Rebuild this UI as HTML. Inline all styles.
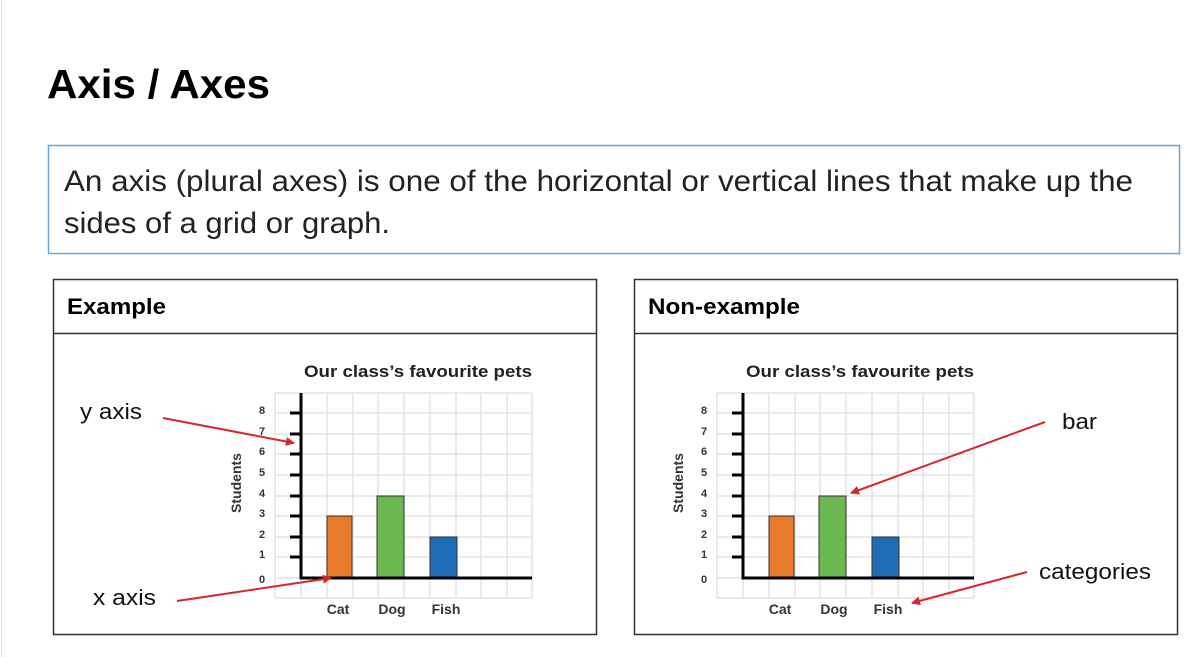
<!DOCTYPE html>
<html><head><meta charset="utf-8"><style>
html,body{margin:0;padding:0;background:#fff;}
svg{display:block;font-family:"Liberation Sans",Arial,sans-serif;}
</style></head><body>
<svg width="1200" height="657" viewBox="0 0 1200 657" xmlns="http://www.w3.org/2000/svg">
<defs>
<marker id="ah" markerWidth="9" markerHeight="9" refX="8" refY="4.5" orient="auto" markerUnits="userSpaceOnUse"><path d="M0,0 L9,4.5 L0,9 z" fill="#d9262b"/></marker>
<g id="chart">
  <text x="304" y="377" font-size="17" font-weight="bold" fill="#222" textLength="228" lengthAdjust="spacingAndGlyphs">Our class’s favourite pets</text>
  <g stroke="#e3e3e3" stroke-width="1.5">
    <line x1="275" y1="393" x2="275" y2="598"/><line x1="301" y1="393" x2="301" y2="598"/><line x1="327" y1="393" x2="327" y2="598"/><line x1="353" y1="393" x2="353" y2="598"/><line x1="378" y1="393" x2="378" y2="598"/><line x1="404" y1="393" x2="404" y2="598"/><line x1="430" y1="393" x2="430" y2="598"/><line x1="456" y1="393" x2="456" y2="598"/><line x1="481" y1="393" x2="481" y2="598"/><line x1="507" y1="393" x2="507" y2="598"/><line x1="532" y1="393" x2="532" y2="598"/>
    <line x1="275" y1="393" x2="532" y2="393"/><line x1="275" y1="413" x2="532" y2="413"/><line x1="275" y1="434" x2="532" y2="434"/><line x1="275" y1="454" x2="532" y2="454"/><line x1="275" y1="475" x2="532" y2="475"/><line x1="275" y1="496" x2="532" y2="496"/><line x1="275" y1="516" x2="532" y2="516"/><line x1="275" y1="537" x2="532" y2="537"/><line x1="275" y1="557" x2="532" y2="557"/><line x1="275" y1="578" x2="532" y2="578"/><line x1="275" y1="598" x2="532" y2="598"/>
  </g>
  <rect x="327" y="516" width="25" height="62" fill="#e87a2c" stroke="#333" stroke-width="1"/>
  <rect x="377" y="496" width="27" height="82" fill="#6ab84f" stroke="#333" stroke-width="1"/>
  <rect x="430" y="537" width="27" height="41" fill="#1f6db5" stroke="#333" stroke-width="1"/>
  <g stroke="#000" stroke-width="3">
    <line x1="301" y1="393" x2="301" y2="579.5"/><line x1="299.5" y1="578" x2="532" y2="578"/>
    <line x1="290" y1="413" x2="301" y2="413"/><line x1="290" y1="434" x2="301" y2="434"/><line x1="290" y1="454" x2="301" y2="454"/><line x1="290" y1="475" x2="301" y2="475"/><line x1="290" y1="496" x2="301" y2="496"/><line x1="290" y1="516" x2="301" y2="516"/><line x1="290" y1="537" x2="301" y2="537"/><line x1="290" y1="557" x2="301" y2="557"/>
  </g>
  <g font-size="11" font-weight="bold" fill="#333" text-anchor="middle">
    <text x="262" y="414">8</text><text x="262" y="435">7</text><text x="262" y="455">6</text><text x="262" y="476">5</text><text x="262" y="497">4</text><text x="262" y="517">3</text><text x="262" y="538">2</text><text x="262" y="558">1</text><text x="262" y="583">0</text>
  </g>
  <text transform="translate(241,483) rotate(-90)" font-size="14" font-weight="bold" fill="#333" text-anchor="middle">Students</text>
  <g font-size="14" font-weight="bold" fill="#333" text-anchor="middle">
    <text x="338" y="614">Cat</text><text x="392" y="614">Dog</text><text x="446" y="614">Fish</text>
  </g>
</g>
</defs>
<line x1="1.5" y1="0" x2="1.5" y2="657" stroke="#e0e0e0" stroke-width="1"/>
<text x="47" y="98" font-size="41" font-weight="bold" fill="#000" textLength="223" lengthAdjust="spacingAndGlyphs">Axis / Axes</text>
<rect x="48.5" y="145.5" width="1131" height="108" fill="#fff" stroke="#6fa3d8" stroke-width="1.5"/>
<text x="64" y="191" font-size="30" fill="#222" textLength="1069" lengthAdjust="spacingAndGlyphs">An axis (plural axes) is one of the horizontal or vertical lines that make up the</text>
<text x="64" y="233" font-size="30" fill="#222" textLength="326" lengthAdjust="spacingAndGlyphs">sides of a grid or graph.</text>

<rect x="53.5" y="279.5" width="543" height="355" fill="#fff" stroke="#333" stroke-width="1.5"/>
<line x1="53.5" y1="333.5" x2="596.5" y2="333.5" stroke="#333" stroke-width="1.5"/>
<text x="67" y="314" font-size="22" font-weight="bold" fill="#000" textLength="99" lengthAdjust="spacingAndGlyphs">Example</text>

<rect x="634.5" y="279.5" width="543" height="355" fill="#fff" stroke="#333" stroke-width="1.5"/>
<line x1="634.5" y1="333.5" x2="1177.5" y2="333.5" stroke="#333" stroke-width="1.5"/>
<text x="648" y="314" font-size="22" font-weight="bold" fill="#000" textLength="152" lengthAdjust="spacingAndGlyphs">Non-example</text>

<use href="#chart"/>
<use href="#chart" transform="translate(442,0)"/>

<text x="80" y="419" font-size="22" fill="#111" textLength="62" lengthAdjust="spacingAndGlyphs">y axis</text>
<text x="93" y="605" font-size="22" fill="#111" textLength="63" lengthAdjust="spacingAndGlyphs">x axis</text>
<text x="1062" y="429" font-size="22" fill="#111" textLength="35" lengthAdjust="spacingAndGlyphs">bar</text>
<text x="1039" y="579" font-size="22" fill="#111" textLength="112" lengthAdjust="spacingAndGlyphs">categories</text>

<g stroke="#d9262b" stroke-width="2" fill="none" marker-end="url(#ah)">
  <line x1="163" y1="418" x2="294" y2="443"/>
  <line x1="177" y1="601" x2="331" y2="578"/>
  <line x1="1045" y1="422" x2="851" y2="493"/>
  <line x1="1027" y1="572" x2="912" y2="603"/>
</g>
</svg>
</body></html>
